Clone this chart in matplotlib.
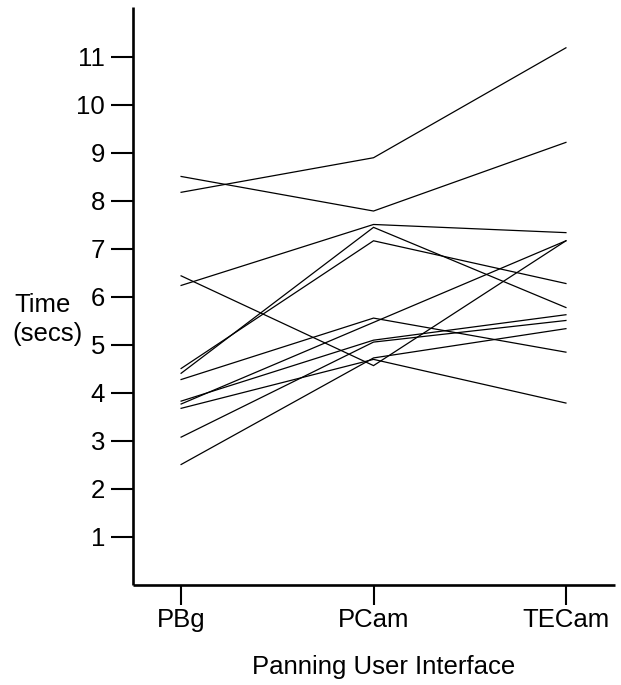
"""
Per-subject panning times across the three panning interfaces.
Each line is one subject, joining their mean time for PBg, PCam and TECam.
"""

import matplotlib
matplotlib.use("Agg")
import matplotlib.pyplot as plt

# ---------------------------------------------------------------------------
# Data
# ---------------------------------------------------------------------------

interfaces = ["PBg", "PCam", "TECam"]

pbg_times = [8.18, 8.51, 6.24, 4.41, 4.51, 6.44, 4.28, 3.77, 3.83, 3.08, 2.51, 3.68]
pcam_times = [8.90, 7.79, 7.51, 7.45, 7.17, 4.57, 5.56, 5.47, 5.10, 5.06, 4.73, 4.70]
tecam_times = [11.19, 9.22, 7.34, 5.78, 6.28, 7.17, 4.85, 7.17, 5.63, 5.51, 5.34, 3.79]

y_ticks = list(range(1, 12))

# ---------------------------------------------------------------------------
# Plot
# ---------------------------------------------------------------------------

plt.rcParams["font.family"] = ["Liberation Sans", "DejaVu Sans"]
FONT_SIZE = 18.5

fig = plt.figure(figsize=(6.21, 6.85), dpi=100)
ax = fig.add_axes([133 / 621, 1 - 585 / 685, (615 - 133) / 621, (585 - 7) / 685])

x = list(range(len(interfaces)))
for subject in zip(pbg_times, pcam_times, tecam_times):
    ax.plot(x, subject, color="black", lw=0.9, solid_joinstyle="miter")

ax.set_xlim(-0.25, 2.255)
ax.set_ylim(0, 12.04)

ax.set_xticks(x)
ax.set_xticklabels(interfaces)
ax.set_yticks(y_ticks)
ax.set_yticklabels([str(t) for t in y_ticks])

ax.spines["top"].set_visible(False)
ax.spines["right"].set_visible(False)
for side in ("left", "bottom"):
    ax.spines[side].set_linewidth(1.9)
    ax.spines[side].set_capstyle("butt")

ax.tick_params(axis="y", direction="out", length=16, width=1.5,
               pad=4, labelsize=FONT_SIZE)
ax.tick_params(axis="x", direction="out", length=14.5, width=1.5,
               pad=2, labelsize=FONT_SIZE)

# two-line y label sits left of the axis, beside the 5/6 ticks
fig.text(14 / 621, 1 - 312 / 685, "Time", fontsize=FONT_SIZE,
         ha="left", va="baseline")
fig.text(12 / 621, 1 - 341 / 685, "(secs)", fontsize=FONT_SIZE,
         ha="left", va="baseline")

fig.text(384 / 621, 1 - 674 / 685, "Panning User Interface",
         fontsize=FONT_SIZE, ha="center", va="baseline")

fig.savefig("out.png", dpi=100)
plt.close(fig)
